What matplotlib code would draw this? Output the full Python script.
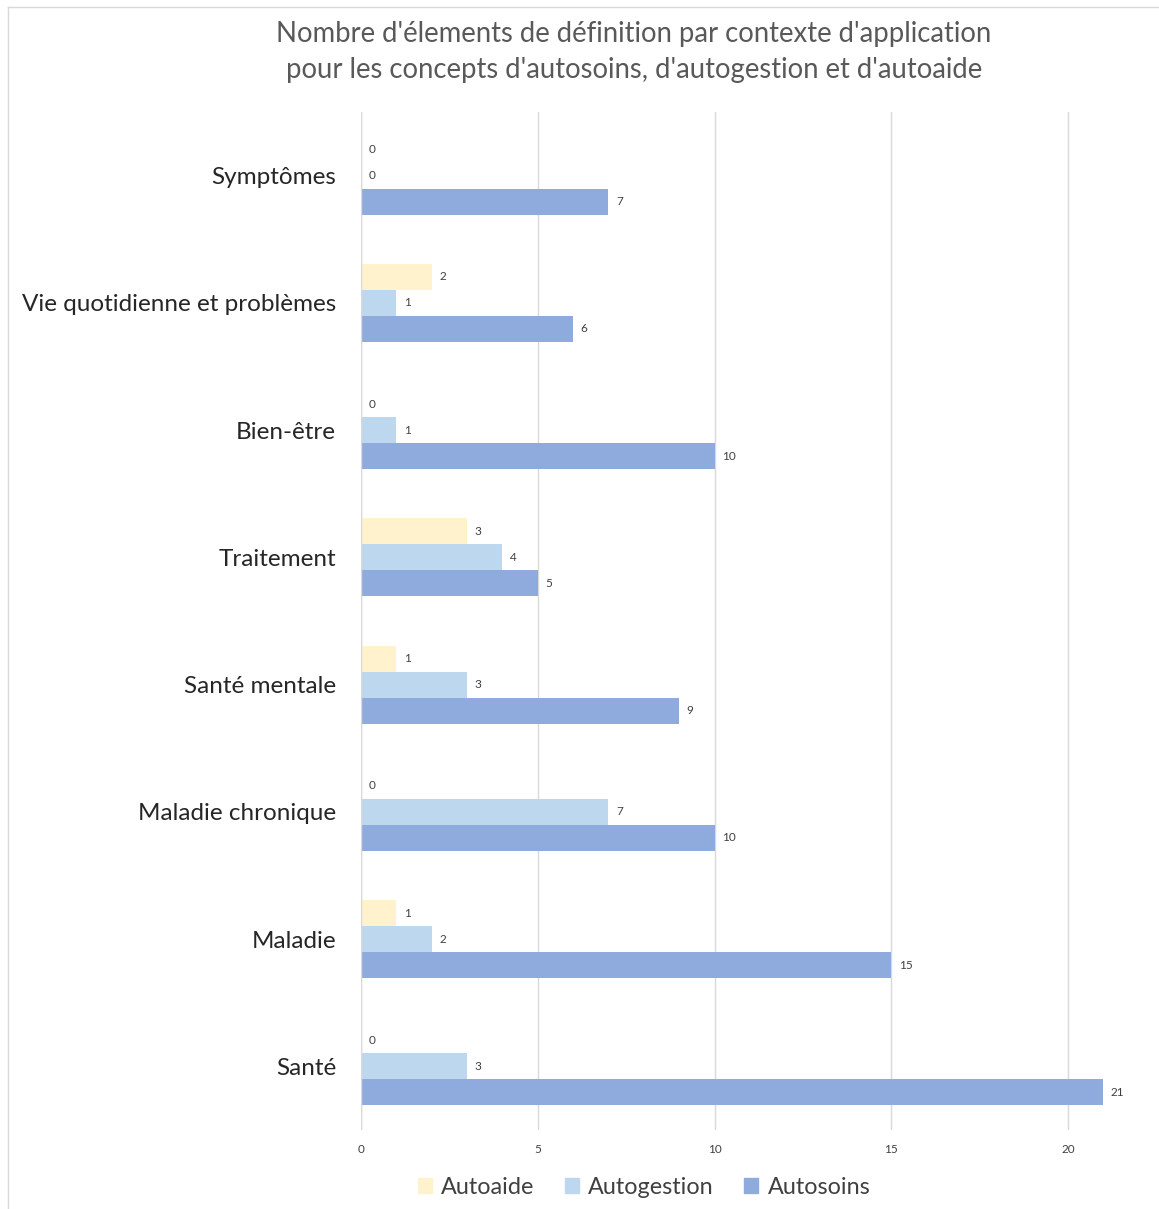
import numpy as np
import matplotlib
matplotlib.use('Agg')
import matplotlib.pyplot as plt
from matplotlib.patches import Patch
from matplotlib.lines import Line2D

categories = ['Symptômes', 'Vie quotidienne et problèmes', 'Bien-être', 'Traitement',
              'Santé mentale', 'Maladie chronique', 'Maladie', 'Santé']
autoaide = [0, 2, 0, 3, 1, 0, 1, 0]
autogestion = [0, 1, 1, 4, 3, 7, 2, 3]
autosoins = [7, 6, 10, 5, 9, 10, 15, 21]

series = [('Autoaide', autoaide, '#FFF2CC'),
          ('Autogestion', autogestion, '#BDD7EE'),
          ('Autosoins', autosoins, '#8FAADC')]

plt.rcParams['font.family'] = ['Lato', 'DejaVu Sans']

W, H = 1159, 1209
fig = plt.figure(figsize=(W / 100, H / 100), dpi=100)

# chart frame (cropped at right and bottom)
fig.add_artist(Line2D([8 / W, 8 / W], [0, 1 - 7 / H], color='#D9D9D9', lw=1))
fig.add_artist(Line2D([8 / W, 1], [1 - 7 / H, 1 - 7 / H], color='#D9D9D9', lw=1))

ax = fig.add_axes([361 / W, 79 / H, (W - 361) / W, 1018 / H])
px_per_unit = (1068 - 361) / 20
ax.set_xlim(0, (W - 361) / px_per_unit)
ax.set_ylim(len(categories) - 0.5, -0.5)

y = np.arange(len(categories))
h = 26 / 127.25
for k, (name, vals, col) in enumerate(series):
    pos = y + (k - 1) * h
    ax.barh(pos, vals, height=h, color=col, label=name, zorder=3)
    for p, v in zip(pos, vals):
        ax.annotate(str(v), (v, p), xytext=(5.5, 0), textcoords='offset points',
                    va='center', ha='left', fontsize=8.5, color='#404040')

ax.set_xticks([0, 5, 10, 15, 20])
ax.set_yticks(y)
ax.set_yticklabels(categories, fontsize=17.5, color='#262626')
ax.tick_params(axis='y', length=0, pad=18)
ax.tick_params(axis='x', length=0, pad=10, labelsize=8.5, labelcolor='#404040')
ax.grid(axis='x', color='#D9D9D9', lw=1, zorder=0)
for s in ax.spines.values():
    s.set_visible(False)
ax.axvline(0, color='#D9D9D9', lw=1, zorder=4)

fig.text(634 / W, 1 - 52 / H,
         "Nombre d'élements de définition par contexte d'application\n"
         "pour les concepts d'autosoins, d'autogestion et d'autoaide",
         ha='center', va='center', fontsize=19.8, color='#595959', linespacing=1.5)

handles = [Patch(color=c, label=n) for n, _, c in series]
fig.legend(handles=handles, loc='center', bbox_to_anchor=(644 / W, 1 - 1187 / H),
           ncol=3, frameon=False, fontsize=16.8, handlelength=0.6, handleheight=0.6,
           handletextpad=0.4, columnspacing=1.3, labelcolor='#404040')

fig.savefig('out.png', dpi=100)
